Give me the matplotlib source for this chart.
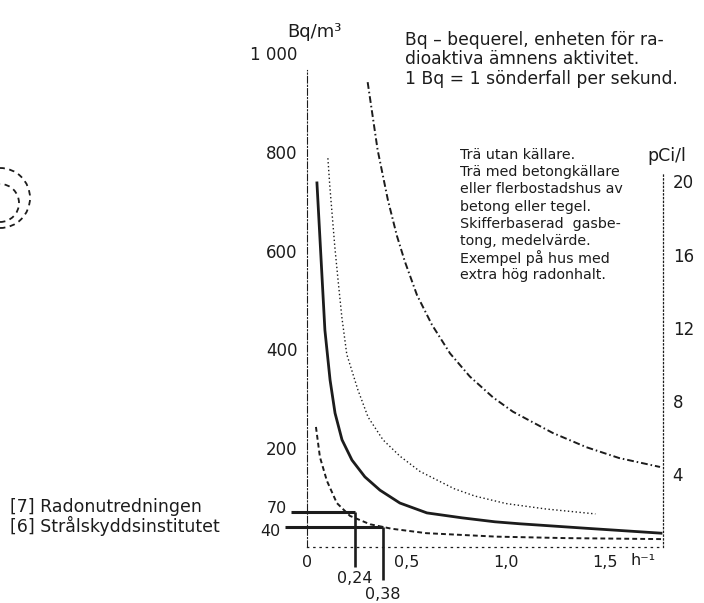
import matplotlib
matplotlib.use("Agg")
import matplotlib.pyplot as plt
from matplotlib.patches import Arc

# ventilation rate (h^-1) and radon level (Bq/m3)
n_tra = [0.045, 0.065, 0.10, 0.15, 0.216, 0.317, 0.425, 0.6, 0.95, 1.3, 1.78]
c_tra = [243, 182, 134, 89, 63, 46, 37, 28, 21, 18, 16]

n_betong = [0.05, 0.09, 0.116, 0.141, 0.176, 0.226, 0.291, 0.367, 0.467, 0.603, 0.78, 0.945, 1.07, 1.40, 1.78]
c_betong = [737, 439, 338, 271, 217, 176, 142, 115, 89, 69, 59, 51, 47, 38, 28]

n_gasbetong = [0.105, 0.115, 0.14, 0.155, 0.175, 0.20, 0.256, 0.307, 0.382, 0.467, 0.568, 0.74, 0.845, 1.0, 1.2, 1.45]
c_gasbetong = [787, 729, 607, 545, 466, 390, 318, 263, 217, 184, 153, 118, 103, 88, 77, 67]

n_hog = [0.305, 0.355, 0.407, 0.452, 0.492, 0.553, 0.628, 0.719, 0.819, 0.935, 1.035, 1.235, 1.405, 1.57, 1.775]
c_hog = [941, 804, 702, 630, 578, 510, 450, 392, 345, 303, 274, 231, 202, 180, 162]

ref_levels = [70, 40]
ref_rates = [0.24, 0.38]
ref_level_labels = ["70", "40"]
ref_rate_labels = ["0,24", "0,38"]
ref_sources = ["[7] Radonutredningen", "[6] Strålskyddsinstitutet"]

x_ticks = [0, 0.5, 1.0, 1.5]
x_ticklabels = ["0", "0,5", "1,0", "1,5"]
y_ticks = [200, 400, 600, 800, 1000]
y_ticklabels = ["200", "400", "600", "800", "1 000"]
pci_ticks = [4, 8, 12, 16, 20]
BQ_PER_PCI = 37.0

info_lines = ["Bq – bequerel, enheten för ra-",
              "dioaktiva ämnens aktivitet.",
              "1 Bq = 1 sönderfall per sekund."]
legend_lines = ["Trä utan källare.",
                "Trä med betongkällare",
                "eller flerbostadshus av",
                "betong eller tegel.",
                "Skifferbaserad  gasbe-",
                "tong, medelvärde.",
                "Exempel på hus med",
                "extra hög radonhalt."]

plt.rcParams["font.family"] = ["DejaVu Sans"]
ink = "#1c1c1c"

W, H = 704, 603
fig = plt.figure(figsize=(7.04, 6.03), dpi=100)


def fx(px):
    return px / W


def fy(py):
    return 1 - py / H


ax = fig.add_axes([fx(307), fy(547), 356 / W, 494 / H])
ax.set_xlim(0, 1.79)
ax.set_ylim(0, 1000)

ax.plot(n_tra, c_tra, color=ink, lw=1.4, ls=(0, (2.5, 1.6)))
ax.plot(n_betong, c_betong, color=ink, lw=2.0)
ax.plot(n_gasbetong, c_gasbetong, color=ink, lw=1.0, ls=(0, (1, 1.8)))
ax.plot(n_hog, c_hog, color=ink, lw=1.4, ls=(0, (3.5, 1.5, 0.8, 1.5)))

# reference levels from the two agencies
h_start = [-0.08, -0.11]
v_end = [-40, -67]
lvl_x = [-0.10, -0.135]
lvl_shift = [3, -3]   # points, keeps the two labels apart
rate_y = [-63, -97]
for i in range(2):
    lv, rt = ref_levels[i], ref_rates[i]
    ax.plot([h_start[i], rt], [lv, lv], color=ink, lw=2.2, clip_on=False,
            solid_capstyle="butt")
    ax.plot([rt, rt], [lv, v_end[i]], color=ink, lw=1.9, clip_on=False,
            solid_capstyle="butt")
    ax.annotate(ref_level_labels[i], xy=(lvl_x[i], lv), xytext=(0, lvl_shift[i]),
                textcoords="offset points", ha="right", va="center",
                fontsize=11.5, color=ink, annotation_clip=False)
    ax.text(rt, rate_y[i], ref_rate_labels[i], ha="center", va="center",
            fontsize=11.5, color=ink)
    ax.annotate(ref_sources[i], xy=(10, lv), xycoords=("figure pixels", "data"),
                xytext=(0, 4 if i == 0 else 1), textcoords="offset points",
                ha="left", va="center", fontsize=12.5, color=ink,
                annotation_clip=False)

# axes styling
ax.spines["top"].set_visible(False)
ax.spines["left"].set_linestyle((0, (6, 2, 1, 2)))
ax.spines["left"].set_linewidth(0.8)
ax.spines["left"].set_bounds(0, 965)
ax.spines["right"].set_linestyle((0, (1, 2)))
ax.spines["right"].set_linewidth(0.9)
ax.spines["right"].set_bounds(0, 760)
ax.spines["bottom"].set_linestyle((0, (1, 4)))
ax.spines["bottom"].set_linewidth(0.9)
for s in ax.spines.values():
    s.set_color(ink)

ax.set_xticks(x_ticks)
ax.set_xticklabels(x_ticklabels)
ax.set_yticks(y_ticks)
ax.set_yticklabels(y_ticklabels)
ax.tick_params(axis="x", length=0, pad=6, labelsize=11.5, colors=ink)
ax.tick_params(axis="y", length=0, pad=7, labelsize=12, colors=ink)
ax.text(1.69, -28, "h⁻¹", ha="center", va="center", fontsize=11.5, color=ink)

sec = ax.secondary_yaxis("right", functions=(lambda b: b / BQ_PER_PCI,
                                              lambda p: p * BQ_PER_PCI))
sec.set_yticks(pci_ticks)
sec.tick_params(length=0, pad=7, labelsize=12, colors=ink)
sec.spines["right"].set_visible(False)

fig.text(fx(314), fy(32), "Bq/m³", ha="center", va="center", fontsize=13, color=ink)
fig.text(fx(667), fy(156), "pCi/l", ha="center", va="center", fontsize=12.5, color=ink)

for i, line in enumerate(info_lines):
    fig.text(fx(405), fy(40 + 19.5 * i), line, ha="left", va="center",
             fontsize=12.3, color=ink)
for i, line in enumerate(legend_lines):
    fig.text(fx(460), fy(155 + 17.2 * i), line, ha="left", va="center",
             fontsize=10.3, color=ink)

# dashed circle fragment at the left edge of the scan
for r, cy in [(30, 198), (19, 203)]:
    fig.add_artist(Arc((0, fy(cy)), 2 * r / W, 2 * r / H, theta1=-90, theta2=90,
                       transform=fig.transFigure, color=ink, lw=1.3,
                       ls=(0, (3, 2.5))))

fig.savefig("out.png", dpi=100, facecolor="white")
